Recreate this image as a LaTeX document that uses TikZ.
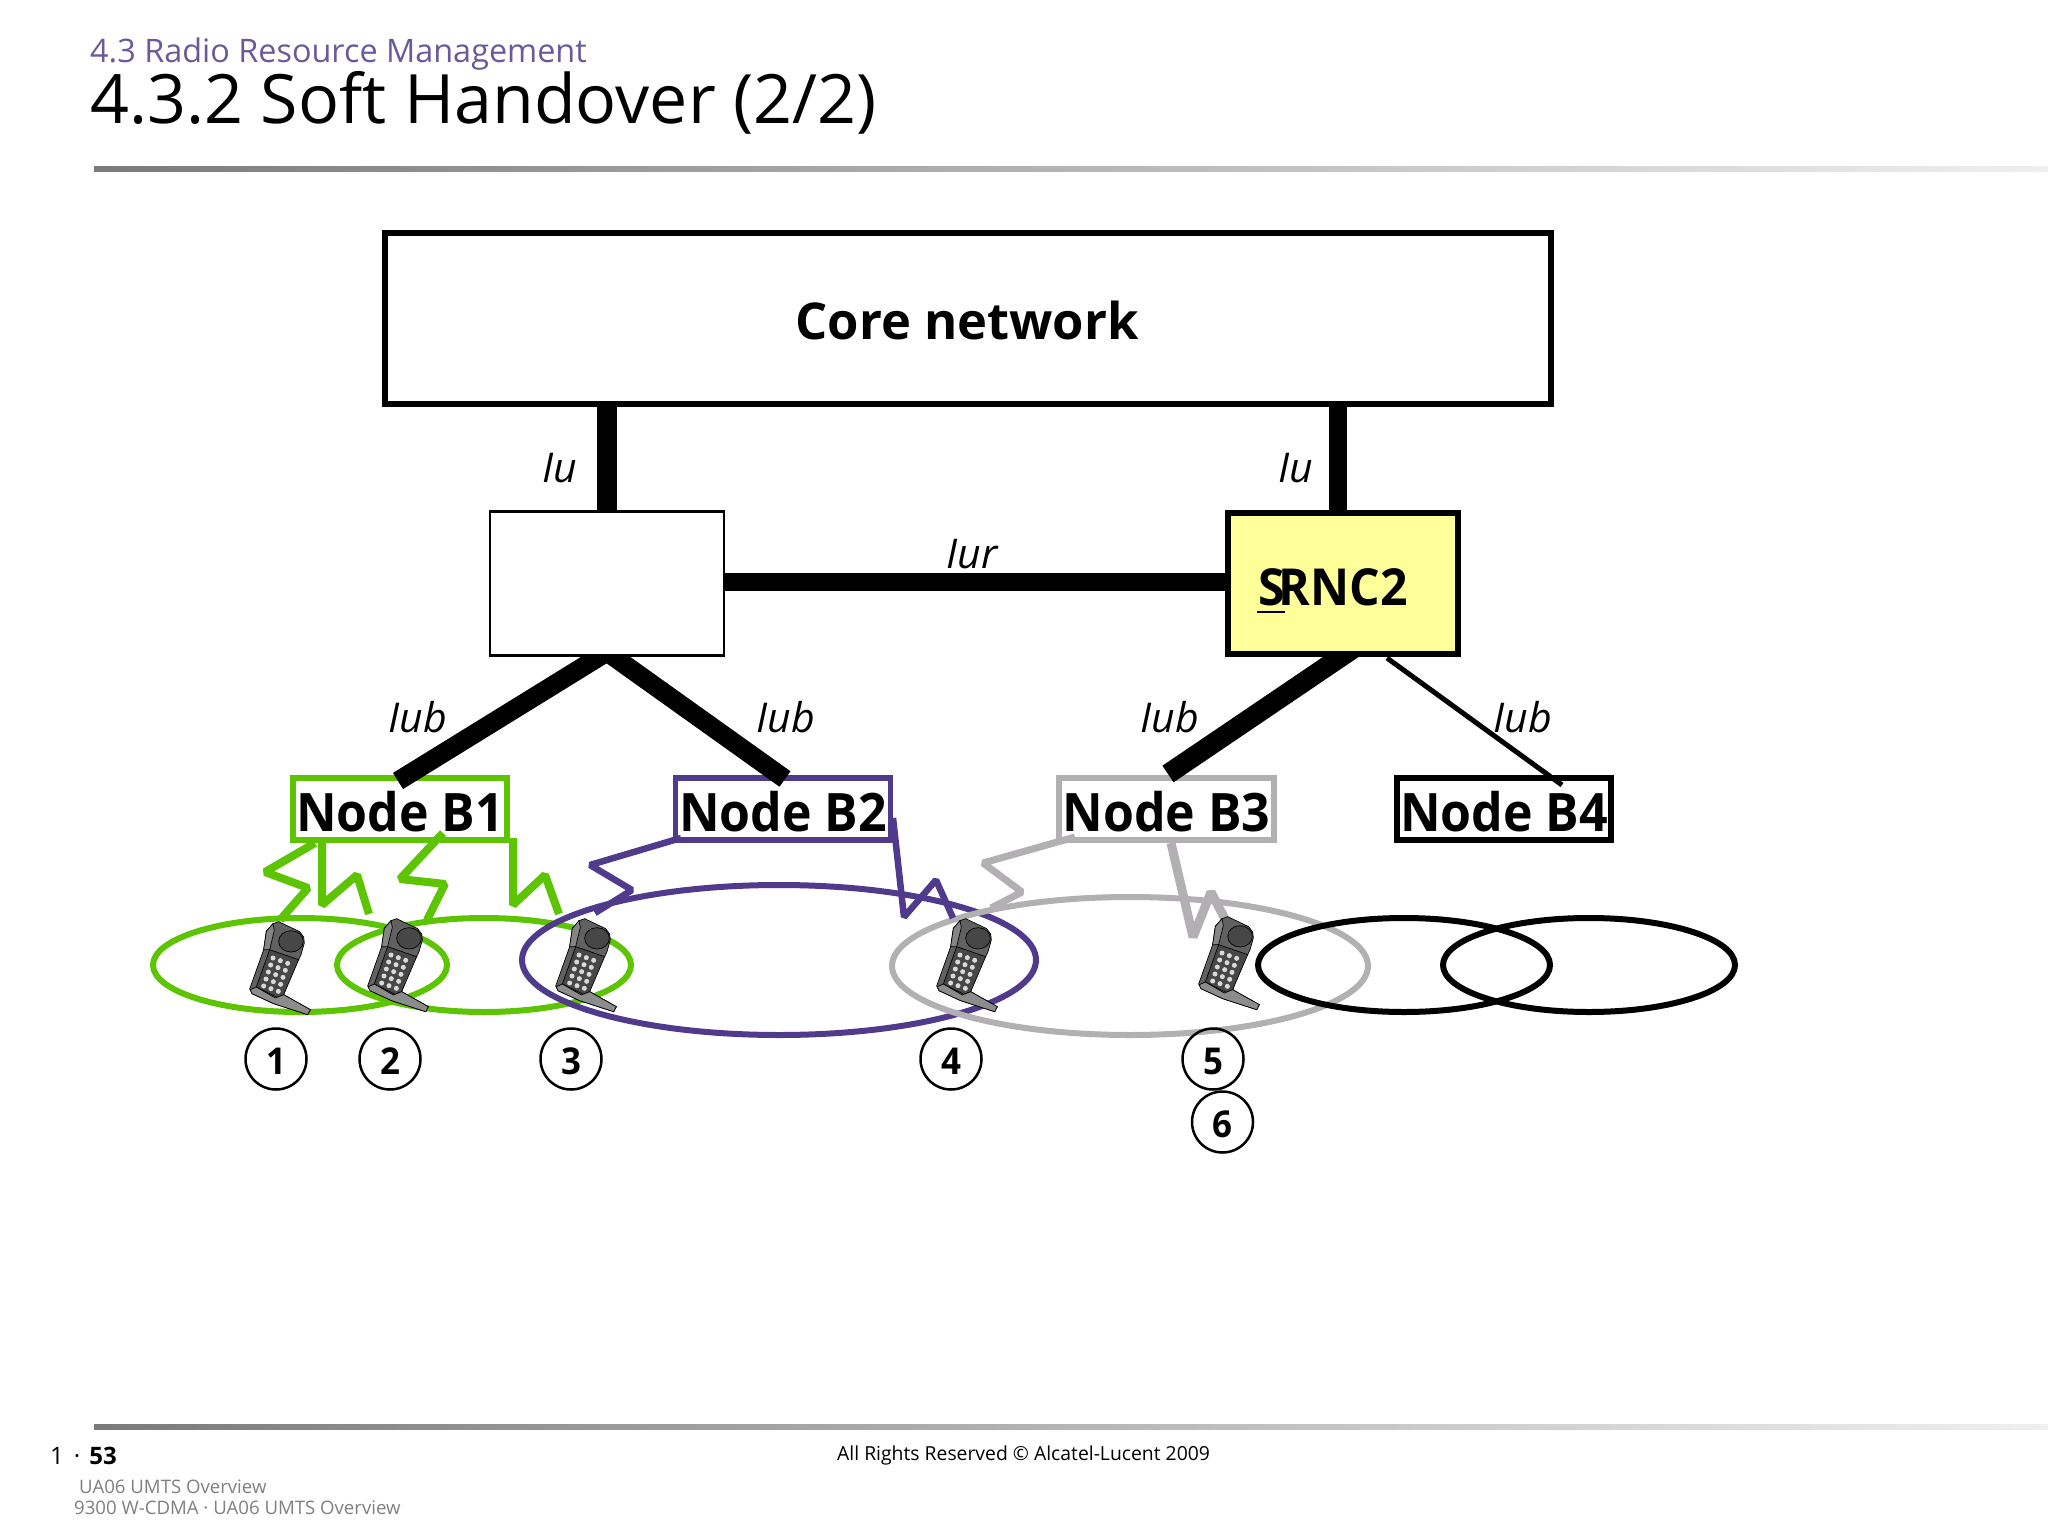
\documentclass[tikz,border=0pt]{standalone}
\usepackage{fontspec}
\setmainfont{Open Sans}
\newfontfamily\nodefont[FakeStretch=0.943]{Open Sans}
\usetikzlibrary{shadings}
\newcommand{\fs}[1]{\fontsize{#1pt}{#1pt}\selectfont}
\definecolor{cgreen}{HTML}{5CC400}
\definecolor{cpurple}{HTML}{503A8C}
\definecolor{cgray}{HTML}{B2B0B2}
\definecolor{ctitle}{HTML}{6A5A9A}
\definecolor{cyel}{HTML}{FFFF99}
\tikzset{
  nodeb/.style={draw,line width=6pt,minimum width=214pt,minimum height=62pt,inner sep=0pt},
  nodetxt/.style={anchor=base,inner sep=0pt,font=\nodefont\bfseries\fs{53}},
  ellipse cell/.style={line width=6pt},
  zig/.style={line width=8pt,line join=bevel},
  thick link/.style={line width=19pt},
  lbl/.style={font=\itshape\fs{41},inner sep=0pt},
  num/.style={circle,draw,line width=2.5pt,minimum size=61pt,inner sep=0pt},
  numtxt/.style={anchor=base,inner sep=0pt,font=\nodefont\bfseries\fs{37}},
  rule bar/.style={left color=black!52,right color=black!6,draw=none},
  phone/.pic={
    \begin{scope}[x=0.3333pt,y=-0.3333pt,shift={(-140,-67)},draw=black,line width=0.7pt]
      \fill[black!62,draw=black] (128,72) -- (145,66) -- (208,96) -- (220,112) -- (222,130) -- (212,165) -- (205,180) -- (190,190) -- (160,285) -- (240,330) -- (232,345) -- (130,312) -- (65,282) -- (58,268) -- (100,150) -- (108,95) -- cycle;
      \fill[black!48,draw=black] (128,72) -- (108,95) -- (100,150) -- (118,150) -- (132,92) -- cycle;
      \fill[black!72,draw=black] (118,150) -- (205,180) -- (160,285) -- (140,293) -- (78,262) -- cycle;
      \fill[black!45,draw=black] (60,270) -- (78,262) -- (135,295) -- (160,285) -- (240,330) -- (232,345) -- (130,312) -- (65,282) -- cycle;
      \fill[black!72,draw=black] (182,125) ellipse[x radius=37,y radius=32];
      \foreach \i in {0,1,2} \foreach \j in {0,1,2,3,4}
        \fill[black!15] ({128+22*\i-7*\j},{175+8*\i+21*\j}) circle[radius=7.5];
    \end{scope}
  }
}
\begin{document}
\begin{tikzpicture}[x=1pt,y=-1pt]
\useasboundingbox (0,0) rectangle (2048,1536);
\fill[white] (0,0) rectangle (2048,1536);

% header / footer
\node[anchor=base west,inner sep=0pt,text=ctitle,font=\fs{32.4}] (sub) at (90,62.5) {4.3 Radio Resource Management};
\node[anchor=base west,inner sep=0pt,font=\fs{68.1}] (title) at (90,124) {4.3.2 Soft Handover (2/2)};
\shade[rule bar] (94,166) rectangle (2048,171);
\shade[rule bar] (94,1424) rectangle (2048,1429);
\node[anchor=base west,inner sep=0pt,font=\fs{24}] (pg) at (50,1464) {1\hspace{10pt}·\hspace{9pt}\textbf{53}};
\node[anchor=base west,inner sep=0pt,font=\fs{19.35}] (copy) at (837,1460) {All Rights Reserved © Alcatel-Lucent 2009};
\node[anchor=base west,inner sep=0pt,text=black!50,font=\fs{18.6}] (f1) at (79,1493) {UA06 UMTS Overview};
\node[anchor=base west,inner sep=0pt,text=black!50,font=\fs{18.6}] (f2) at (74,1514) {9300 W-CDMA · UA06 UMTS Overview};

% core box
\node[draw,line width=6pt,minimum width=1166pt,minimum height=171pt,inner sep=0pt] (core) at (967.5,318) {};
\node[anchor=base,inner sep=0pt,font=\bfseries\fs{50.7}] (coretxt) at (967,339.5) {Core network};

% cells
\draw[ellipse cell,cgreen] (300,965) ellipse[x radius=147,y radius=47];
\draw[ellipse cell,cgreen] (484,965) ellipse[x radius=147,y radius=47];
\draw[ellipse cell,cpurple] (779,960) ellipse[x radius=257,y radius=75];
\draw[ellipse cell,cgray] (1130,966) ellipse[x radius=238,y radius=69];
\draw[ellipse cell,black] (1404,965) ellipse[x radius=146,y radius=47];
\draw[ellipse cell,black] (1589,965) ellipse[x radius=146,y radius=47];

% radio links
\coordinate (za1) at (315,843); \coordinate (za2) at (280,920);
\coordinate (zb1) at (322,838); \coordinate (zb2) at (369,914);
\coordinate (zc1) at (443,833); \coordinate (zc2) at (427,920);
\coordinate (zd1) at (513,838); \coordinate (zd2) at (559,914);
\coordinate (ze1) at (681,838); \coordinate (ze2) at (595,913);
\coordinate (zf1) at (893,818); \coordinate (zf2) at (953,918);
\coordinate (zg1) at (1075,837); \coordinate (zg2) at (991,908);
\coordinate (zh1) at (1171,843); \coordinate (zh2) at (1227,923);
\draw[zig,cgreen] (za1) -- (265,872) -- (308,888) -- (za2);
\draw[zig,cgreen] (zb1) -- (322,905) -- (357,875) -- (zb2);
\draw[zig,cgreen] (zc1) -- (400,879) -- (445,884) -- (zc2);
\draw[zig,cgreen] (zd1) -- (513,905) -- (545,875) -- (zd2);
\draw[zig,cpurple,line width=6.5pt] (ze1) -- (590,865) -- (632,890) -- (ze2);
\draw[zig,cpurple,line width=6.5pt] (zf1) -- (904,917) -- (936,880) -- (zf2);
\draw[zig,cgray,line width=7pt] (zg1) -- (983,863) -- (1022,892) -- (zg2);
\draw[zig,cgray,line width=9pt] (zh1) -- (1193,937) -- (1211,892) -- (zh2);

% node B boxes
\node[nodeb,draw=cgreen] (nb1) at (399.5,809) {};
\node[nodeb,draw=cpurple,minimum width=215pt,line width=5.5pt] (nb2) at (783,809) {};
\node[nodeb,draw=cgray,minimum width=215pt] (nb3) at (1166.5,809) {};
\node[nodeb,draw=black,minimum width=214pt] (nb4) at (1504,809) {};
\node[nodetxt] (nb1txt) at (400,831) {Node B1};
\node[nodetxt] (nb2txt) at (783,831) {Node B2};
\node[nodetxt] (nb3txt) at (1166.5,831) {Node B3};
\node[nodetxt] (nb4txt) at (1504,831) {Node B4};

% wired links
\coordinate (lnk1) at (607,511);
\coordinate (cu2) at (1338,405);
\coordinate (ru2) at (1338,511);
\coordinate (rnc1b) at (607,652);
\coordinate (b1top) at (398,781);
\coordinate (b2top) at (785,779);
\coordinate (b3top) at (1168,774);
\coordinate (b4top) at (1562,785);
\coordinate (rnc2o) at (1354,648);
\coordinate (rnc2p) at (1387,658);
\draw[thick link,line width=20pt] (lnk1 |- core.south) -- (lnk1);
\draw[thick link,line width=18pt] (cu2) -- (ru2);
\draw[thick link] (rnc1b) -- (b1top);
\draw[thick link] (rnc1b) -- (b2top);
\draw[thick link,line width=20pt] (rnc2o) -- (b3top);
\draw[line width=5pt] (rnc2p) -- (b4top);

% RNC boxes
\node[draw,line width=2.5pt,fill=white,minimum width=234pt,minimum height=144pt,inner sep=0pt] (rnc1) at (607,583.5) {};
\node[draw,line width=6pt,fill=cyel,minimum width=230pt,minimum height=141pt,inner sep=0pt] (rnc2) at (1343,583.5) {};
\node[anchor=base west,inner sep=0pt,font=\nodefont\bfseries\fs{51}] (rnc2txt) at (1258,605) {\rlap{\kern-1pt\rule[-8pt]{28pt}{2.5pt}}S\kern-6pt RNC2};
\coordinate (iura) at (rnc1.east |- 0,582);
\coordinate (iurb) at (rnc2.west |- 0,582);
\draw[thick link,line width=18pt] (iura) -- (iurb);

% link labels
\node[lbl] (lu1) at (560,468) {Iu};
\node[lbl] (lu2) at (1296,468) {Iu};
\node[lbl] (lur) at (972,554) {Iur};
\node[lbl] (lb1) at (418,717) {Iub};
\node[lbl] (lb2) at (786,717) {Iub};
\node[lbl] (lb3) at (1170,717) {Iub};
\node[lbl] (lb4) at (1523,717) {Iub};

% phones
\pic at (277,922) {phone};
\pic at (395,919) {phone};
\pic at (583,919) {phone};
\pic at (964,919) {phone};
\pic at (1226,917) {phone};

% numbers
\node[num] (n1) at (276,1059) {};
\node[num] (n2) at (390,1059) {};
\node[num] (n3) at (571,1059) {};
\node[num] (n4) at (951,1059) {};
\node[num] (n5) at (1213,1059) {};
\node[num] (n6) at (1222.5,1122) {};
\node[numtxt] (d1) at (276,1074) {1};
\node[numtxt] (d2) at (390,1074) {2};
\node[numtxt] (d3) at (571,1074) {3};
\node[numtxt] (d4) at (951,1074) {4};
\node[numtxt] (d5) at (1213,1074) {5};
\node[numtxt] (d6) at (1222.5,1137) {6};
\end{tikzpicture}
\end{document}
